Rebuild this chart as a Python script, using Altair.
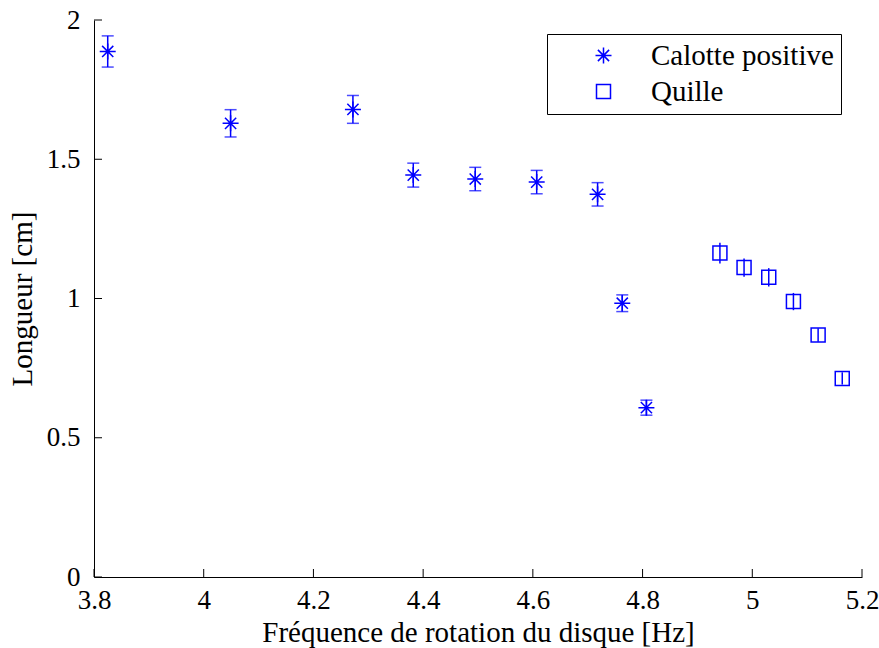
import altair as alt
import pandas as pd

# --- data ---
x_cal = [3.825, 4.049, 4.272, 4.382, 4.495, 4.607, 4.718, 4.763, 4.807]
y_cal = [1.887, 1.629, 1.679, 1.443, 1.429, 1.418, 1.374, 0.983, 0.608]
e_cal = [0.056, 0.049, 0.050, 0.043, 0.042, 0.042, 0.042, 0.030, 0.027]

x_qui = [4.941, 4.985, 5.030, 5.075, 5.120, 5.164]
y_qui = [1.163, 1.111, 1.076, 0.989, 0.869, 0.713]
e_qui = [0.037, 0.033, 0.033, 0.031, 0.024, 0.022]

series_names = ["Calotte positive", "Quille"]
x_ticks = [3.8, 4.0, 4.2, 4.4, 4.6, 4.8, 5.0, 5.2]
y_ticks = [0, 0.5, 1.0, 1.5, 2.0]

rows = []
for x, y, e in zip(x_cal, y_cal, e_cal):
    rows.append({"x": x, "y": y, "lo": y - e, "hi": y + e, "serie": series_names[0]})
for x, y, e in zip(x_qui, y_qui, e_qui):
    rows.append({"x": x, "y": y, "lo": y - e, "hi": y + e, "serie": series_names[1]})
df = pd.DataFrame(rows)
df_cal = df[df["serie"] == series_names[0]]

BLUE = "#0000ff"
FONT = "Liberation Serif"
FS = 29
LFS = 27
W, H = 768, 557

asterisk = "M-1,0L1,0M0,-1L0,1M-0.7,-0.7L0.7,0.7M-0.7,0.7L0.7,-0.7"
square = "M-0.875,-0.875L0.875,-0.875L0.875,0.875L-0.875,0.875Z"

xscale = alt.Scale(domain=[3.8, 5.2], nice=False, zero=False)
yscale = alt.Scale(domain=[0, 2], nice=False)

xaxis = alt.Axis(values=x_ticks, format="~g", ticks=False, tickSize=0, grid=False,
                 labelFlush=False, labelOverlap=False,
                 labelPadding=10, title="Fréquence de rotation du disque [Hz]",
                 titlePadding=5)
yaxis = alt.Axis(values=y_ticks, format="~g", ticks=False, tickSize=0, grid=False,
                 labelFlush=False, labelOverlap=False,
                 labelPadding=14, title="Longueur [cm]", titlePadding=9)

base = alt.Chart(df)

errbars = base.mark_rule(color=BLUE, strokeWidth=1.5).encode(
    x=alt.X("x:Q", scale=xscale, axis=xaxis),
    y=alt.Y("lo:Q", scale=yscale, axis=yaxis),
    y2="hi:Q",
)

caps_lo = alt.Chart(df_cal).mark_tick(color=BLUE, orient="horizontal", size=12, thickness=1.5).encode(
    x=alt.X("x:Q", scale=xscale), y=alt.Y("lo:Q", scale=yscale))
caps_hi = alt.Chart(df_cal).mark_tick(color=BLUE, orient="horizontal", size=12, thickness=1.5).encode(
    x=alt.X("x:Q", scale=xscale), y=alt.Y("hi:Q", scale=yscale))

points = base.mark_point(filled=False, strokeWidth=1.5, opacity=1, color=BLUE, size=256).encode(
    x=alt.X("x:Q", scale=xscale),
    y=alt.Y("y:Q", scale=yscale),
    shape=alt.Shape("serie:N",
                    scale=alt.Scale(domain=series_names, range=[asterisk, square]),
                    legend=alt.Legend(
                        title=None, orient="none", legendX=453, legendY=14,
                        fillColor="white", strokeColor="black", padding=7,
                        symbolSize=256, symbolStrokeColor=BLUE, symbolFillColor="transparent",
                        symbolStrokeWidth=1.5, symbolOffset=35, labelOffset=33,
                        labelFont=FONT, labelFontSize=FS, labelColor="black",
                        rowPadding=6, labelLimit=400)),
)

ytick_df = pd.DataFrame({"v": y_ticks})
xtick_df = pd.DataFrame({"v": x_ticks})
yticks = alt.Chart(ytick_df).mark_rule(color="black", strokeWidth=1).encode(
    y=alt.Y("v:Q", scale=yscale), x=alt.value(0), x2=alt.value(8))
xticks = alt.Chart(xtick_df).mark_rule(color="black", strokeWidth=1).encode(
    x=alt.X("v:Q", scale=xscale), y=alt.value(H), y2=alt.value(H - 8))

chart = alt.layer(errbars, caps_lo, caps_hi, points, yticks, xticks).properties(
    width=W, height=H,
    background="white",
    autosize=alt.AutoSizeParams(type="none"),
    padding={"left": 94, "top": 20, "right": 17, "bottom": 71},
).configure_view(stroke=None).configure_axis(
    domainColor="black", domainWidth=1,
    labelFont=FONT, labelFontSize=LFS, labelColor="black",
    titleFont=FONT, titleFontSize=FS, titleFontWeight="normal", titleColor="black",
)

chart.save("out.html", embed_options={"renderer": "svg", "actions": False})
